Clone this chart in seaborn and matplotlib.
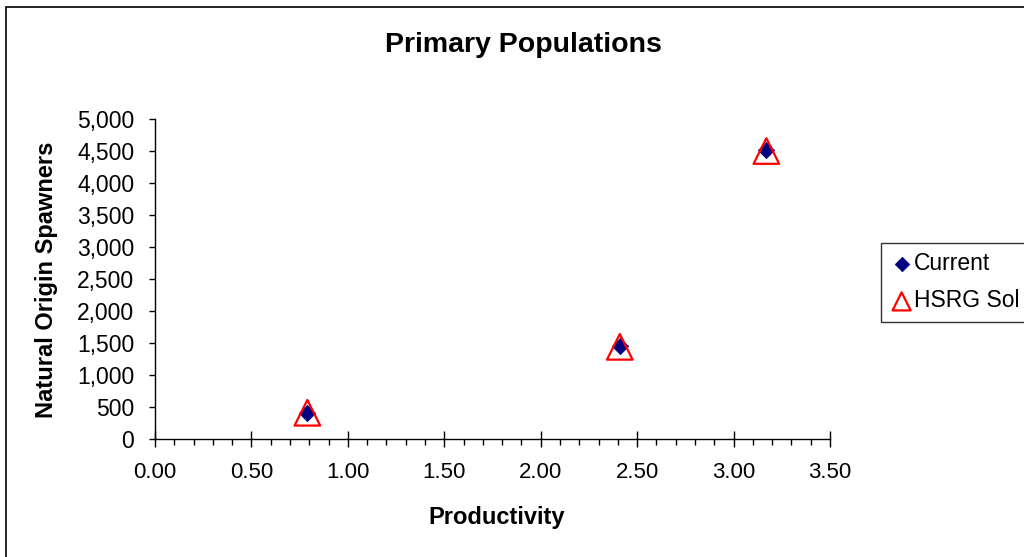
import matplotlib
matplotlib.use("Agg")
import matplotlib.pyplot as plt
import seaborn as sns
import pandas as pd
from matplotlib.ticker import MultipleLocator, FuncFormatter
from matplotlib.patches import Rectangle

# Data
current_x = [0.79, 2.41, 3.17]
current_y = [400, 1450, 4510]
hsrg_x = [0.79, 2.41, 3.17]
hsrg_y = [410, 1440, 4500]
series_names = ["Current", "HSRG Sol"]
title = "Primary Populations"
xlabel = "Productivity"
ylabel = "Natural Origin Spawners"

sns.set_theme(style="white")
plt.rcParams['font.family'] = ['Liberation Sans', 'DejaVu Sans']
plt.rcParams.update({"text.color": "black", "axes.labelcolor": "black",
                     "xtick.color": "black", "ytick.color": "black"})

W, H = 1024, 557
fig = plt.figure(figsize=(W / 100, H / 100), dpi=100)
ax = fig.add_axes([155 / W, (H - 439) / H, 675 / W, 320 / H])

df_c = pd.DataFrame({"x": current_x, "y": current_y})
df_h = pd.DataFrame({"x": hsrg_x, "y": hsrg_y})

sns.scatterplot(data=df_c, x="x", y="y", ax=ax, marker="D", s=70,
                color="#000080", edgecolor="#000080", linewidth=0.5,
                label=series_names[0], zorder=3)
sns.scatterplot(data=df_h, x="x", y="y", ax=ax, marker="^", s=340,
                facecolor="none", edgecolor="#ff0000", linewidth=1.6,
                label=series_names[1], zorder=4)

ax.set_xlim(0, 3.5)
ax.set_ylim(0, 5000)
ax.xaxis.set_major_locator(MultipleLocator(0.5))
ax.xaxis.set_minor_locator(MultipleLocator(0.1))
ax.yaxis.set_major_locator(MultipleLocator(500))
ax.xaxis.set_major_formatter(FuncFormatter(lambda v, p: f"{v:.2f}"))
ax.yaxis.set_major_formatter(FuncFormatter(lambda v, p: f"{int(round(v)):,}"))

for s in ["top", "right"]:
    ax.spines[s].set_visible(False)
for s in ["left", "bottom"]:
    ax.spines[s].set_color("black")
    ax.spines[s].set_linewidth(1.0)

ax.tick_params(axis="x", which="major", direction="inout", length=11, width=1,
               color="black", labelsize=16, pad=11, bottom=True)
ax.tick_params(axis="x", which="minor", direction="out", length=4, width=1,
               color="black", bottom=True)
ax.tick_params(axis="y", which="major", direction="out", length=4, width=1,
               color="black", labelsize=16.5, pad=11, left=True)

ax.set_xlabel(xlabel, fontsize=17, fontweight="bold")
ax.xaxis.set_label_coords((497 - 155) / 675, -(524 - 439) / 320)
ax.xaxis.label.set_va("baseline")
ax.set_ylabel(ylabel, fontsize=17, fontweight="bold")
ax.yaxis.set_label_coords((47 - 155) / 675, (439 - 280) / 320)
ax.yaxis.label.set_va("center")

fig.text(523 / W, 1 - 52 / H, title, fontsize=20.5, fontweight="bold",
         ha="center", va="baseline")

leg = ax.legend(loc="upper left", bbox_to_anchor=(881 / W, 1 - 243 / H),
                bbox_transform=fig.transFigure, borderaxespad=0, frameon=True,
                fontsize=16.5, handletextpad=0.05, borderpad=0.4,
                labelspacing=0.62, handlelength=1.0, fancybox=False)
leg.get_frame().set_edgecolor("black")
leg.get_frame().set_linewidth(1.0)
leg.get_frame().set_facecolor("white")
leg.legend_handles[0].set_sizes([55])
leg.legend_handles[1].set_sizes([170])

# outer chart border (extends beyond right/bottom edges)
fig.patches.append(Rectangle((6 / W, -0.1), 1.2, 1 - 7 / H + 0.1,
                             transform=fig.transFigure, fill=False,
                             edgecolor="black", linewidth=1.2))

fig.savefig("out.png", dpi=100)
